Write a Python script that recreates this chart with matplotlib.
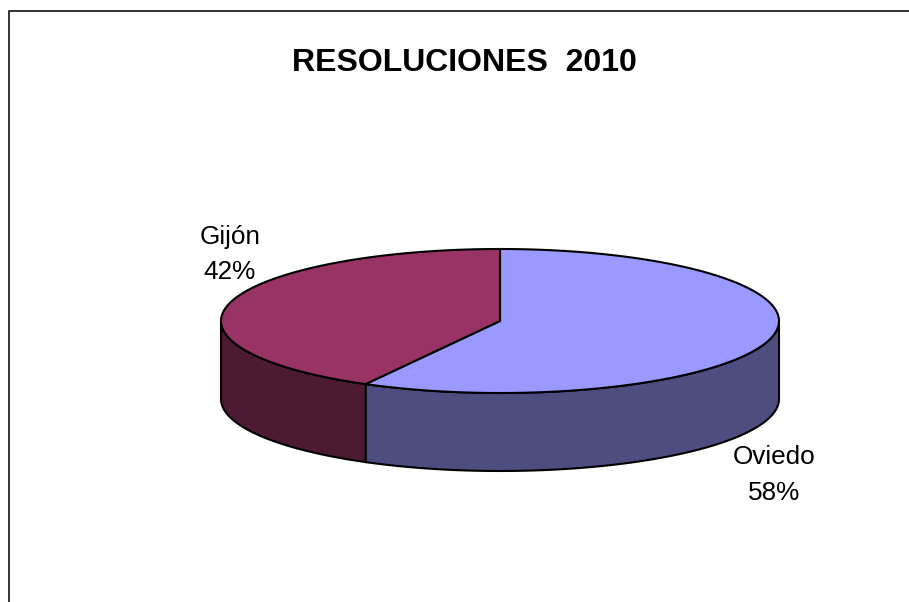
import matplotlib
matplotlib.use('Agg')
import matplotlib.pyplot as plt
import numpy as np

labels = ['Oviedo', 'Gijón']
shares = [58, 42]
top_colors = ['#9999FF', '#993366']
side_colors = ['#4D4D80', '#4D1A33']

plt.rcParams['font.family'] = ['Liberation Sans', 'DejaVu Sans']

cx, cy = 500, 321
rx, ry = 279, 72
depth = 78


def ell(a):
    # a is degrees clockwise from 12 o'clock
    t = np.radians(a)
    return cx + rx * np.sin(t), cy - ry * np.cos(t)


fig = plt.figure(figsize=(9.09, 6.02), dpi=100)
ax = fig.add_axes([0, 0, 1, 1])
ax.set_xlim(0, 909)
ax.set_ylim(602, 0)
ax.axis('off')

# outer frame, open at the bottom like the original crop
ax.plot([9, 9, 909], [602, 11, 11], color='#222222', lw=1.3)

start = 0
for share, top, side in zip(shares, top_colors, side_colors):
    stop = start + share * 3.6
    ang = np.linspace(start, stop, 200)
    x, y = ell(ang)

    # wall: only the front half of the rim is visible
    front = np.linspace(max(start, 90), min(stop, 270), 200)
    if front[-1] > front[0]:
        fx, fy = ell(front)
        ax.fill(np.r_[fx, fx[::-1]], np.r_[fy, fy[::-1] + depth],
                facecolor=side, edgecolor='black', lw=1.5, zorder=2)

    ax.fill(np.r_[cx, x], np.r_[cy, y], facecolor=top, edgecolor='black',
            lw=1.5, joinstyle='miter', zorder=3)
    start = stop

ax.text(464.5, 63, 'RESOLUCIONES  2010', fontsize=23, fontweight='bold',
        ha='center', va='center')
ax.text(230, 254.5, labels[1] + '\n' + str(shares[1]) + '%', fontsize=18.8,
        ha='center', va='center', linespacing=1.6)
ax.text(774, 475, labels[0] + '\n' + str(shares[0]) + '%', fontsize=18.8,
        ha='center', va='center', linespacing=1.6)

fig.savefig('out.png', dpi=100)
